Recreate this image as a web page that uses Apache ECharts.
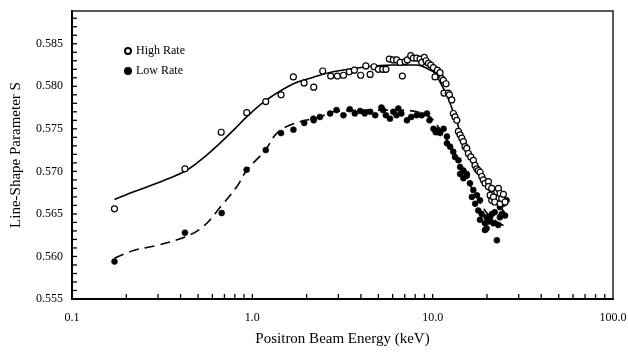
<!DOCTYPE html>
<html>
<head>
<meta charset="utf-8">
<script src="https://cdn.jsdelivr.net/npm/echarts@6/dist/echarts.min.js"></script>
<style>html,body{margin:0;padding:0;background:#fff}#c{width:628px;height:352px}</style>
</head>
<body>
<div id="c"></div>
<script>
// ---- data ----
var highE = [0.172,0.423,0.672,0.931,1.187,1.443,1.688,1.936,2.19,2.457,2.72,2.96,3.20,3.45,3.68,3.99,4.26,4.50,4.73,5.00,5.29,5.51,5.75,6.05,6.32,6.60,6.79,7.03,7.24,7.56,7.82,8.16,8.51,8.70,8.99,9.19,9.47,9.76,10.09,10.31,10.62,10.99,11.23,11.46,11.56,11.86,12.2,12.38,12.76,13.02,13.30,13.61,13.89,14.19,14.5,14.8,15.12,15.45,15.78,16.27,16.82,17.18,17.57,17.93,18.32,18.72,19.1,19.53,20.38,20.38,20.82,21.27,21.27,21.73,22.1,22.68,23.15,23.65,23.65,24.15,24.67,25.2];
var highS = [0.5656,0.5703,0.5746,0.5769,0.5782,0.5790,0.5811,0.5804,0.5799,0.5818,0.5812,0.5812,0.5813,0.5817,0.5819,0.5813,0.5824,0.5814,0.5823,0.5820,0.5820,0.5820,0.5832,0.5831,0.5831,0.5828,0.5812,0.5829,0.5831,0.5836,0.5833,0.5833,0.5832,0.5828,0.5834,0.5830,0.5827,0.5825,0.5822,0.5811,0.5819,0.5816,0.5809,0.5807,0.5792,0.5803,0.5792,0.5790,0.5784,0.5768,0.5764,0.5760,0.5747,0.5743,0.5739,0.5735,0.5729,0.5727,0.5721,0.5717,0.5713,0.5707,0.5703,0.5701,0.5699,0.5694,0.5690,0.5686,0.5688,0.5682,0.5672,0.5680,0.5666,0.5670,0.5664,0.5676,0.5680,0.5674,0.5662,0.5668,0.5673,0.5664];

var lowE = [0.172,0.423,0.676,0.93,1.187,1.443,1.69,1.94,2.19,2.18,2.37,2.7,2.93,3.2,3.47,3.7,3.96,4.2,4.5,4.8,5.2,5.3,5.5,5.8,6.05,6.3,6.45,6.7,7.2,7.6,8.15,8.7,9.3,9.6,10.1,10.4,10.6,11.0,11.5,12.0,12.0,12.5,13.0,13.3,13.9,14.2,14.2,14.8,14.8,15.45,15.45,16.1,16.5,16.8,17.2,17.6,17.9,18.3,18.3,18.7,19.5,19.5,19.9,19.9,20.4,20.8,21.3,21.7,22.1,22.7,23.1,23.6,23.6,24.2,24.7,25.2,25.7];
var lowS = [0.5594,0.5628,0.5651,0.5702,0.5725,0.5745,0.5749,0.5757,0.5760,0.5762,0.5764,0.5768,0.5772,0.5766,0.5773,0.5768,0.5771,0.5768,0.5770,0.5766,0.5775,0.5772,0.5766,0.5762,0.5770,0.5766,0.5774,0.5768,0.5760,0.5764,0.5766,0.5766,0.5768,0.5760,0.5750,0.5746,0.5748,0.5745,0.5750,0.5741,0.5733,0.5729,0.5723,0.5717,0.5713,0.5705,0.5697,0.5701,0.5692,0.5697,0.5695,0.5686,0.5670,0.5678,0.5662,0.5672,0.5654,0.5666,0.5643,0.5650,0.5639,0.5631,0.5633,0.5646,0.5641,0.5645,0.5650,0.5639,0.5652,0.5619,0.5637,0.5658,0.5646,0.5650,0.5662,0.5648,0.5666];

var highFitE = [0.172,0.22,0.295,0.32,0.43,0.55,0.66,0.8,0.93,1.2,1.69,2.14,2.8,4.31,6.0,8.15,9.3,10.1,10.6,11.0,11.96,12.8,13.6,14.5,15.45,16.8,18.3,20,22,25];
var highFitS = [0.5667,0.5676,0.5686,0.5689,0.5701,0.5718,0.5733,0.5750,0.5764,0.5784,0.5803,0.5810,0.5817,0.5823,0.5825,0.5825,0.5821,0.5817,0.5813,0.5805,0.5790,0.5774,0.5759,0.5739,0.5723,0.5709,0.5697,0.5682,0.5668,0.5652];

var lowFitE = [0.172,0.219,0.295,0.423,0.533,0.676,0.82,0.93,1.18,1.37,1.69,2.37,2.8,4.5,6.6,9.3,10.6,12.0,13.3,14.8,16.5,18.3,20.4,23,25];
var lowFitS = [0.5598,0.5607,0.5613,0.5623,0.5635,0.5660,0.5682,0.5701,0.5725,0.5745,0.5756,0.5764,0.5770,0.5772,0.5772,0.5766,0.5754,0.5737,0.5720,0.5700,0.5680,0.5663,0.5649,0.5640,0.5636];

var xMajorTicks = [0.1, 1, 10, 100];
var xMinorTicks = [0.2,0.3,0.4,0.5,0.6,0.7,0.8,0.9,1,2,3,4,5,6,7,8,9,10,20,30,40,50,60,70,80,90];
var yLabels = [0.555,0.560,0.565,0.570,0.575,0.580,0.585];
var yTicks = [];
for (var k = 1; k <= 33; k++) yTicks.push(+(0.555 + k * 0.001).toFixed(3));

var X_MIN = 0.1, X_MAX = 100, Y_MIN = 0.555, Y_MAX = 0.58885;

function zip(a, b) { return a.map(function (v, i) { return [v, b[i]]; }); }

var font = 'Liberation Serif, Times New Roman, serif';
var TICK_LEN = 5;
function tickRenderer(dir) {
  return function (params, api) {
    var p = api.coord([api.value(0), api.value(1)]);
    var shape = dir === 'x'
      ? {x: p[0] - 0.65, y: p[1] - TICK_LEN, width: 1.3, height: TICK_LEN}
      : {x: p[0], y: p[1] - 0.65, width: TICK_LEN, height: 1.3};
    return {type: 'rect', shape: shape, style: {fill: '#000'}};
  };
}

var chart = echarts.init(document.getElementById('c'), null, {renderer: 'canvas'});
chart.setOption({
  animation: false,
  backgroundColor: '#fff',
  grid: {left: 72, right: 15, top: 11, bottom: 53, show: true, borderColor: '#222', borderWidth: 1.5, outerBoundsMode: 'none'},
  legend: {
    data: ['High Rate', 'Low Rate'], orient: 'vertical', left: 119, top: 40,
    icon: 'circle', itemWidth: 6, itemHeight: 6, itemGap: 8,
    textStyle: {fontFamily: font, fontSize: 12, color: '#000'}
  },
  xAxis: {
    type: 'log', logBase: 10, min: X_MIN, max: X_MAX,
    name: 'Positron Beam Energy (keV)', nameLocation: 'middle', nameGap: 33,
    nameTextStyle: {fontFamily: font, fontSize: 15, color: '#000'},
    axisLine: {lineStyle: {color: '#000', width: 2}},
    axisTick: {show: false},
    axisLabel: {fontFamily: font, fontSize: 12, color: '#000', margin: 13, customValues: xMajorTicks,
      formatter: function (v) { return (+v).toFixed(1); }},
    splitLine: {show: false}, minorTick: {show: false}
  },
  yAxis: {
    type: 'value', min: Y_MIN, max: Y_MAX,
    name: 'Line-Shape Parameter S', nameLocation: 'middle', nameGap: 48,
    nameTextStyle: {fontFamily: font, fontSize: 15, color: '#000'},
    axisLine: {show: true, lineStyle: {color: '#000', width: 2}},
    axisTick: {show: false},
    axisLabel: {fontFamily: font, fontSize: 12, color: '#000', margin: 9, customValues: yLabels,
      formatter: function (v) { return (+v).toFixed(3); }},
    splitLine: {show: false}
  },
  series: [
    {name: 'xticks', type: 'custom', data: xMinorTicks.map(function (v) { return [v, Y_MIN]; }),
      renderItem: tickRenderer('x'), silent: true, z: 5},
    {name: 'yticks', type: 'custom', data: yTicks.map(function (v) { return [X_MIN, v]; }),
      renderItem: tickRenderer('y'), silent: true, z: 5},
    {name: 'High fit', type: 'line', data: zip(highFitE, highFitS), smooth: 0.4, showSymbol: false, symbol: 'none',
      lineStyle: {color: '#000', width: 1.6}, z: 1, silent: true},
    {name: 'Low fit', type: 'line', data: zip(lowFitE, lowFitS), smooth: 0.4, showSymbol: false, symbol: 'none',
      lineStyle: {color: '#000', width: 1.6, type: [10, 6]}, z: 1, silent: true},
    {name: 'High Rate', type: 'scatter', data: zip(highE, highS), symbol: 'circle', symbolSize: 6,
      itemStyle: {color: '#fff', borderColor: '#000', borderWidth: 1.2, opacity: 1}, z: 3},
    {name: 'Low Rate', type: 'scatter', data: zip(lowE, lowS), symbol: 'circle', symbolSize: 6,
      itemStyle: {color: '#000', borderColor: '#000', borderWidth: 0.5, opacity: 1}, z: 2}
  ]
});
</script>
</body>
</html>
